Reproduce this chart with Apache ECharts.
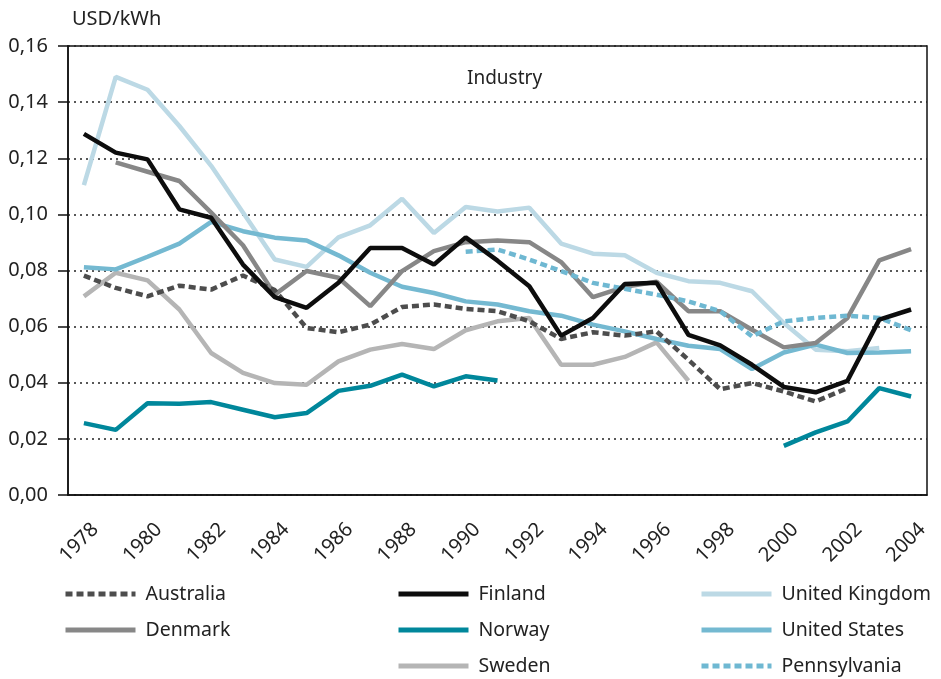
<!DOCTYPE html>
<html>
<head>
<meta charset="utf-8">
<script src="https://cdn.jsdelivr.net/npm/echarts@6/dist/echarts.min.js"></script>
<style>
  html, body { margin: 0; padding: 0; background: #fff; }
  #main { width: 941px; height: 679px; }
</style>
</head>
<body>
<div id="main"></div>
<script>
// years on the x axis
var years = [];
for (var y = 1978; y <= 2004; y++) years.push(String(y));

var yTicks = [0, 0.02, 0.04, 0.06, 0.08, 0.10, 0.12, 0.14, 0.16];

// USD/kWh, industry
var australia = [0.0782,0.0738,0.0708,0.0746,0.0732,0.0782,0.0730,0.0595,0.0580,0.0607,0.0670,0.0679,0.0663,0.0655,0.0619,0.0556,0.0580,0.0568,0.0583,0.0482,0.0377,0.0399,0.0369,0.0333,0.0381,null,null];
var denmark = [null,0.1185,0.1152,0.1119,0.1006,0.0890,0.0714,0.0798,0.0774,0.0673,0.0798,0.0869,0.0901,0.0907,0.0901,0.0830,0.0705,0.0742,0.0760,0.0655,0.0655,0.0589,0.0526,0.0542,0.0631,0.0836,0.0876];
var finland = [0.1287,0.1220,0.1196,0.1018,0.0988,0.0821,0.0705,0.0667,0.0756,0.0880,0.0880,0.0821,0.0918,0.0835,0.0744,0.0568,0.0631,0.0752,0.0756,0.0571,0.0533,0.0464,0.0385,0.0366,0.0407,0.0625,0.0661];
var norway = [0.0256,0.0232,0.0327,0.0325,0.0331,0.0304,0.0277,0.0292,0.0371,0.0389,0.0429,0.0387,0.0423,0.0408,null,null,null,null,null,null,null,null,0.0175,0.0223,0.0262,0.0381,0.0351];
var sweden = [0.0708,0.0792,0.0765,0.0661,0.0506,0.0435,0.0399,0.0393,0.0476,0.0518,0.0538,0.0520,0.0587,0.0619,0.0631,0.0464,0.0464,0.0492,0.0544,0.0407,null,null,null,null,null,null,null];
var unitedKingdom = [0.1104,0.1490,0.1444,0.1315,0.1173,0.1007,0.0839,0.0813,0.0918,0.0961,0.1056,0.0934,0.1026,0.1010,0.1024,0.0896,0.0860,0.0854,0.0792,0.0762,0.0756,0.0726,0.0613,0.0518,0.0512,0.0524,null];
var unitedStates = [0.0812,0.0804,0.0849,0.0896,0.0973,0.0940,0.0917,0.0907,0.0854,0.0792,0.0742,0.0720,0.0690,0.0679,0.0655,0.0639,0.0607,0.0583,0.0556,0.0532,0.0520,0.0449,0.0508,0.0536,0.0506,0.0508,0.0512];
var pennsylvania = [null,null,null,null,null,null,null,null,null,null,null,null,0.0867,0.0875,0.0839,0.0798,0.0756,0.0735,0.0714,0.0690,0.0655,0.0565,0.0619,0.0631,0.0639,0.0631,0.0587];

var FONT = 'Noto Sans';

function line(name, data, color, dashed) {
  return {
    name: name,
    type: 'line',
    data: data,
    symbol: 'none',
    connectNulls: false,
    lineStyle: { color: color, width: 4.5, type: dashed ? [7, 4] : 'solid', cap: 'butt' },
    itemStyle: { color: color },
    emphasis: { disabled: true }
  };
}

function legendCol(left, names) {
  return {
    orient: 'vertical',
    left: left,
    top: 579,
    height: 98,
    itemWidth: 70,
    itemHeight: 10,
    itemGap: 16,
    data: names,
    itemStyle: { opacity: 0 },
    lineStyle: { width: 5 },
    textStyle: { fontFamily: FONT, fontSize: 19.5, lineHeight: 20, color: '#222', padding: [0, 0, 0, 5] }
  };
}

var chart = echarts.init(document.getElementById('main'));
chart.setOption({
  animation: false,
  title: [
    { text: 'USD/kWh', left: 67, top: 4, textStyle: { fontFamily: FONT, fontSize: 20, fontWeight: 'normal', color: '#222' } },
    { text: 'Industry', left: 462, top: 64, textStyle: { fontFamily: FONT, fontSize: 19, fontWeight: 'normal', color: '#222' } }
  ],
  grid: { left: 68, right: 14, top: 46, bottom: 184, show: true, borderColor: '#111', borderWidth: 1.5 },
  legend: [
    legendCol(58, ['Australia', 'Denmark']),
    legendCol(391, ['Finland', 'Norway', 'Sweden']),
    legendCol(694, ['United Kingdom', 'United States', 'Pennsylvania'])
  ],
  xAxis: {
    type: 'category',
    data: years,
    boundaryGap: true,
    axisLine: { lineStyle: { color: '#111', width: 1.5 } },
    axisTick: { alignWithLabel: true, interval: 0, length: 11, lineStyle: { color: '#111', width: 1.5 } },
    axisLabel: {
      interval: 1, rotate: 45, margin: 20, verticalAlign: 'top', padding: [6, 0, 0, 0],
      fontFamily: FONT, fontSize: 20, color: '#222'
    }
  },
  yAxis: {
    type: 'value',
    min: yTicks[0],
    max: yTicks[yTicks.length - 1],
    interval: 0.02,
    axisLine: { show: true, lineStyle: { color: '#111', width: 1.5 } },
    axisTick: { show: true, length: 10, lineStyle: { color: '#111', width: 1.5 } },
    splitLine: { lineStyle: { color: '#222', width: 1.5, type: [2, 4] } },
    axisLabel: {
      margin: 20, fontFamily: FONT, fontSize: 20, color: '#222',
      formatter: function (v) { return v.toFixed(2).replace('.', ','); }
    }
  },
  series: [
    line('United Kingdom', unitedKingdom, '#bcd9e5', false),
    line('Sweden', sweden, '#b5b5b5', false),
    line('United States', unitedStates, '#74b9d1', false),
    line('Denmark', denmark, '#878787', false),
    line('Pennsylvania', pennsylvania, '#6fb8d2', true),
    line('Norway', norway, '#00879b', false),
    line('Australia', australia, '#4d4d4d', true),
    line('Finland', finland, '#0d0d0d', false)
  ]
});
</script>
</body>
</html>
